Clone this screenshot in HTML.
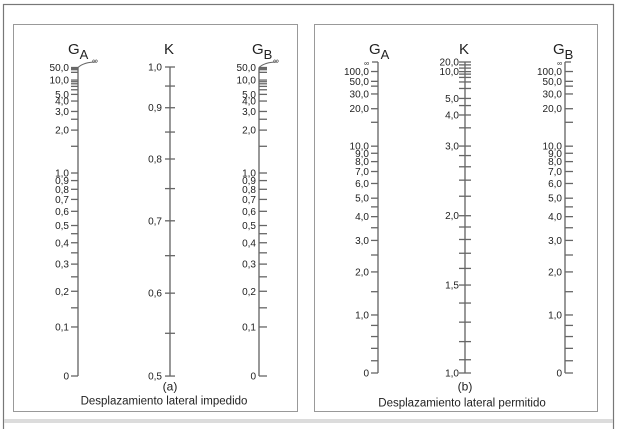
<!DOCTYPE html>
<html><head><meta charset="utf-8"><style>
html,body{margin:0;padding:0;background:#fff;}
svg{display:block;font-family:"Liberation Sans",Arial,sans-serif;}
</style></head><body>
<svg id="chart" width="627" height="429" viewBox="0 0 627 429" xmlns="http://www.w3.org/2000/svg">
<rect x="3.5" y="4.5" width="610" height="430" fill="#fff" stroke="#777" stroke-width="1.2"/>
<rect x="4" y="419" width="609" height="4" fill="#dcdcdc"/>
<rect x="13.5" y="24.5" width="284" height="387" fill="#fff" stroke="#999"/>
<rect x="314.5" y="24.5" width="283" height="387" fill="#fff" stroke="#999"/>
<g id="marks"></g>
</svg>
<script>
// Panel (a) braced frame data
const gaLabelsA = [50,10,5,4,3,2,1,0.9,0.8,0.7,0.6,0.5,0.4,0.3,0.2,0.1,0];
const gaMinorA = [40,30,20,9,8,7,6,2.5,1.5,0.45,0.35,0.25,0.15];
const kLabelsA = [1.0,0.9,0.8,0.7,0.6,0.5];
const kMinorA = [0.95,0.85,0.75,0.65,0.55];
// Panel (b) sway frame data
const gLabelsB = [100,50,30,20,10,9,8,7,6,5,4,3,2,1,0];
const gMinorB = [40,15,4.5,3.5,2.5,1.5,0.8,0.6,0.4,0.2];
const kLabelsB = [20,10,5,4,3,2,1.5,1];
const kMinorB = [15,12,9,8,7,6,4.5,3.5,2.8,2.6,2.4,2.2,1.9,1.8,1.7,1.6,1.4,1.3,1.2,1.1];

const NS="http://www.w3.org/2000/svg";
const g=document.getElementById('marks');
function el(tag,attrs,parent){const e=document.createElementNS(NS,tag);for(const k in attrs)e.setAttribute(k,attrs[k]);(parent||g).appendChild(e);return e;}
function fmt(v,d){return v.toFixed(d).replace('.',',');}

// axis scale functions
function yGA(v){return 376-311.8*v/(v+0.536);}
function yKA(v){const u=1-v;return 67+354.6*u+527*u*u;}
function yGB(v){const p=Math.pow(v,1.07);return 373-311*p/(p+4.36);}
function yKB(v){const h=(1/v-0.05)/0.95;const q=h+h*(1-h)*(1.232*h-0.501);return 62+311*q;}

function axis(x,y1,y2,name){
  const l=el('line',{x1:x,y1:y1,x2:x,y2:y2,stroke:'#555','stroke-width':1.2});
  
  
}
function tick(x,y,side,len,name){
  let x1=x,x2=x;
  if(side<0){x1=x-len;} else if(side>0){x2=x+len;} else {x1=x-len;x2=x+len;}
  const t=el('line',{x1:x1,y1:y,x2:x2,y2:y,stroke:'#666','stroke-width':1.3});
  
  
}
function label(x,y,txt,name,anchor,size){
  const t=el('text',{x:x,y:y+3.5,'font-size':size||10,'text-anchor':anchor||'end',fill:'#222'});
  t.textContent=txt;
  
  
}
function header(x,y,main,sub,name){
  const t=el('text',{x:x,y:y,'font-size':15,fill:'#222'});
  
  
  t.textContent=main;
  if(sub){const s=el('tspan',{'font-size':13,dy:5},t);s.textContent=sub;}
}

// ----- Panel (a)
const ax1=78,ak=170,ax2=259;
axis(ax1,yGA(50),yGA(0),'ga-axis-a');
axis(ak,yKA(1),yKA(0.5),'k-axis-a');
axis(ax2,yGA(50),yGA(0),'gb-axis-a');
gaLabelsA.forEach(v=>{
  const txt=v===0?'0':fmt(v,1);
  tick(ax1,yGA(v),-1,7,'ga-tick-a');
  label(ax1-9,yGA(v),txt,'ga-label-a');
  tick(ax2,yGA(v),1,8,'gb-tick-a');
  label(ax2-3,yGA(v),txt,'gb-label-a');
});
gaMinorA.forEach(v=>{tick(ax1,yGA(v),-1,7,'ga-minor-tick-a');tick(ax2,yGA(v),1,8,'gb-minor-tick-a');});
kLabelsA.forEach(v=>{tick(ak,yKA(v),0,5,'k-tick-a');label(ak-8,yKA(v),fmt(v,1),'k-label-a');});
kMinorA.forEach(v=>tick(ak,yKA(v),0,5,'k-minor-tick-a'));
// infinity hooks
[[ax1,'ga-infinity-a'],[ax2,'gb-infinity-a']].forEach(([x,n])=>{
  const p=el('path',{d:`M${x} ${yGA(50)} Q${x+6} 62 ${x+18} 62`,fill:'none',stroke:'#666','stroke-width':1});
  
  
  label(x+17,60,'∞',n+'-label','middle',8);
});
header(68,54,'G','A','ga-title-a');
header(164,54,'K','','k-title-a');
header(252,54,'G','B','gb-title-a');
label(170,387,'(a)','caption-a','middle',12);
label(164,401,'Desplazamiento lateral impedido','subtitle-a','middle',11.5);

// ----- Panel (b)
const bx1=378,bk=465,bx2=565;
axis(bx1,62,yGB(0),'ga-axis-b');
axis(bk,yKB(20),yKB(1),'k-axis-b');
axis(bx2,62,yGB(0),'gb-axis-b');
tick(bx1,62,-1,6,'ga-infinity-tick-b');label(bx1-9,62,'∞','ga-infinity-b','end',7);
tick(bx2,62,1,6,'gb-infinity-tick-b');label(bx2-3,62,'∞','gb-infinity-b','end',7);
gLabelsB.forEach(v=>{
  const txt=v===0?'0':fmt(v,1);
  tick(bx1,yGB(v),-1,7,'ga-tick-b');
  label(bx1-9,yGB(v),txt,'ga-label-b');
  tick(bx2,yGB(v),1,8,'gb-tick-b');
  label(bx2-3,yGB(v),txt,'gb-label-b');
});
gMinorB.forEach(v=>{tick(bx1,yGB(v),-1,7,'ga-minor-tick-b');tick(bx2,yGB(v),1,8,'gb-minor-tick-b');});
kLabelsB.forEach(v=>{tick(bk,yKB(v),0,6,'k-tick-b');label(bk-6,yKB(v),fmt(v,1),'k-label-b');});
kMinorB.forEach(v=>tick(bk,yKB(v),0,6,'k-minor-tick-b'));
header(369,54,'G','A','ga-title-b');
header(459,54,'K','','k-title-b');
header(553,54,'G','B','gb-title-b');
label(465,387,'(b)','caption-b','middle',12);
label(462,403,'Desplazamiento lateral permitido','subtitle-b','middle',11.5);
</script>
</body></html>
